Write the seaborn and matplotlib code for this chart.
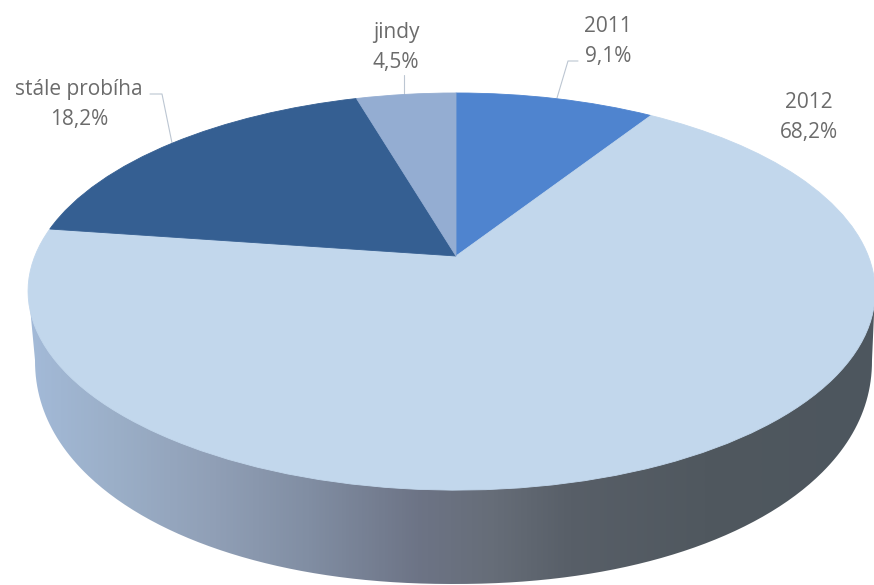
import numpy as np
import matplotlib
matplotlib.use("Agg")
import matplotlib.pyplot as plt
from matplotlib.colors import LinearSegmentedColormap
from matplotlib.patches import PathPatch
from matplotlib.path import Path
from matplotlib.transforms import Transform
import seaborn as sns

# data
categories = ["2011", "2012", "stále probíha", "jindy"]
values = [9.1, 68.2, 18.2, 4.5]
value_labels = ["9,1%", "68,2%", "18,2%", "4,5%"]

# style
slice_colors = ["#4f84cf", "#c2d7ec", "#355f92", "#94add2"]
text_color = "#6b6b6b"
leader_color = "#bcc6d2"
side_stops = [(0.0, "#a3bad8"), (0.10, "#9bafc8"), (0.22, "#909fb6"), (0.33, "#818ea3"),
              (0.46, "#6d7486"), (0.55, "#666d78"), (0.64, "#585f68"), (0.80, "#50585f"),
              (1.0, "#4d565e")]

sns.set_theme(style="white")
plt.rcParams["font.family"] = ["Open Sans", "DejaVu Sans"]

W, H = 874, 585
fig = plt.figure(figsize=(W / 100, H / 100), dpi=100, facecolor="white")
ax = fig.add_axes([0, 0, 1, 1])


class DiscProjection(Transform):
    """Perspective view of the unit pie disc, in pixel-like axes coordinates."""
    input_dims = 2
    output_dims = 2
    is_affine = False
    has_inverse = False

    def transform_non_affine(self, xy):
        xy = np.asarray(xy, dtype=float)
        x, y = xy[:, 0], xy[:, 1]
        k = 0.179
        d = 1 + k * y
        u = 456 + (416.7 * x - 4.4 * x ** 2) / d
        v = 256 - 192.2 * y / d
        return np.column_stack([u, v])


proj = DiscProjection()

wedges, _ = ax.pie(values, startangle=90, counterclock=False, colors=slice_colors,
                   wedgeprops=dict(linewidth=0.6), radius=1)
for w, c in zip(wedges, slice_colors):
    w.set_edgecolor(c)
    w.set_transform(proj + ax.transData)
    w.set_zorder(3)

ax.set_aspect("auto")
ax.set_xlim(0, W)
ax.set_ylim(H, 0)
ax.set_axis_off()

# side wall of the disc: horizontal gradient clipped to the wall outline
t = np.linspace(np.pi, 0, 300)
p = 0.95
c, s = np.cos(t), np.abs(np.sin(t))
rim_x = 453.5 + 418.5 * np.sign(c) * np.abs(c) ** p
rim_y = 360 + 224 * s ** p
outline = np.vstack([[[28.5, 291]], np.column_stack([rim_x, rim_y]), [[875, 291]]])
wall = PathPatch(Path(outline, closed=False), transform=ax.transData, fc="none", ec="none")
ax.add_patch(wall)
cmap = LinearSegmentedColormap.from_list("side", side_stops)
grad = np.linspace(0, 1, 512)[None, :]
im = ax.imshow(grad, extent=(28, 875, H, 0), cmap=cmap, aspect="auto", zorder=1)
im.set_clip_path(wall)
ax.set_xlim(0, W)
ax.set_ylim(H, 0)

# labels
label_pos = [(608, 32), (809, 108), (79, 95), (396, 38)]
line_gap = 30
for cat, val, (x, y) in zip(categories, value_labels, label_pos):
    ax.text(x, y, cat, ha="center", va="baseline", fontsize=15,
            color=text_color, zorder=5)
    ax.text(x, y + line_gap, val, ha="center", va="baseline", fontsize=15,
            color=text_color, zorder=5)

# leader lines
leaders = [([578, 568, 557], [61, 61, 98]),
           ([150, 162, 172], [94, 94, 143]),
           ([404, 404], [75, 96])]
for lx, ly in leaders:
    ax.plot(lx, ly, color=leader_color, lw=0.8, zorder=2)

fig.savefig("out.png", dpi=100, facecolor="white")
